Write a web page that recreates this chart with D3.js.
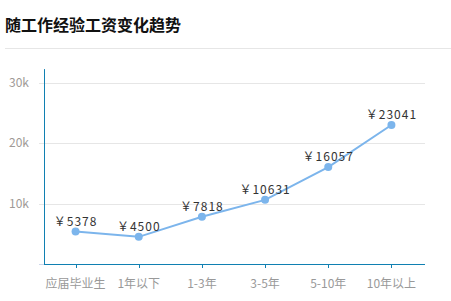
<!DOCTYPE html>
<html>
<head>
<meta charset="utf-8">
<script src="https://cdn.jsdelivr.net/npm/d3@7.9.0/dist/d3.min.js"></script>
<style>
  body { margin: 0; background: #fff; }
  svg { display: block; font-family: "Noto Sans CJK SC", "DejaVu Sans", sans-serif; }
</style>
</head>
<body>
<svg width="451" height="301"></svg>
<script>
const title = '随工作经验工资变化趋势';
const categories = ['应届毕业生', '1年以下', '1-3年', '3-5年', '5-10年', '10年以上'];
const salaries = [5378, 4500, 7818, 10631, 16057, 23041];
const yTicks = [10000, 20000, 30000];

const svg = d3.select('svg');

// title + separator
svg.append('text')
  .attr('x', 5).attr('y', 31)
  .attr('font-size', 16).attr('font-weight', 'bold').attr('fill', '#111')
  .text(title);
svg.append('line')
  .attr('x1', 5).attr('x2', 451).attr('y1', 48.5).attr('y2', 48.5)
  .attr('stroke', '#e6e6e6');

const x = d3.scaleBand().domain(categories).range([44, 423]);
const y = d3.scaleLinear().domain([0, 30000]).range([264, 83]);

// grid lines
svg.append('g')
  .selectAll('line')
  .data(yTicks)
  .join('line')
  .attr('x1', 39).attr('x2', 425)
  .attr('y1', d => Math.round(y(d)) + 0.5)
  .attr('y2', d => Math.round(y(d)) + 0.5)
  .attr('stroke', '#e6e6e6');

// y labels
svg.append('g')
  .selectAll('text')
  .data(yTicks)
  .join('text')
  .attr('x', 29).attr('y', d => y(d) + 4)
  .attr('text-anchor', 'end')
  .attr('font-size', 12).attr('fill', '#a09a96')
  .text(d => d / 1000 + 'k');

// small zero tick on the left
svg.append('line')
  .attr('x1', 39).attr('x2', 44).attr('y1', 264.5).attr('y2', 264.5)
  .attr('stroke', '#ccd6eb');

// axes lines
const axisColor = '#1080b2';
svg.append('line')
  .attr('x1', 44.5).attr('x2', 44.5).attr('y1', y(32300)).attr('y2', 264)
  .attr('stroke', axisColor);
svg.append('line')
  .attr('x1', 44).attr('x2', 425).attr('y1', 264.5).attr('y2', 264.5)
  .attr('stroke', axisColor);

// x ticks + labels
const cx = d => x(d) + x.bandwidth() / 2;
svg.append('g')
  .selectAll('line')
  .data(categories)
  .join('line')
  .attr('x1', d => Math.round(cx(d)) + 0.5).attr('x2', d => Math.round(cx(d)) + 0.5)
  .attr('y1', 264).attr('y2', 268)
  .attr('stroke', axisColor);
svg.append('g')
  .selectAll('text')
  .data(categories)
  .join('text')
  .attr('x', d => cx(d)).attr('y', 288)
  .attr('text-anchor', 'middle')
  .attr('font-size', 12).attr('fill', '#999')
  .text(d => d);

// line + markers
const pts = categories.map((c, i) => ({ c, v: salaries[i] }));
svg.append('path')
  .datum(pts)
  .attr('d', d3.line().x(d => cx(d.c)).y(d => y(d.v)))
  .attr('fill', 'none')
  .attr('stroke', '#7cb5ec')
  .attr('stroke-width', 2);
svg.append('g')
  .selectAll('circle')
  .data(pts)
  .join('circle')
  .attr('cx', d => cx(d.c)).attr('cy', d => y(d.v))
  .attr('r', 4)
  .attr('fill', '#7cb5ec');

// data labels
svg.append('g')
  .selectAll('text')
  .data(pts)
  .join('text')
  .attr('x', d => cx(d.c)).attr('y', d => y(d.v) - 6)
  .attr('text-anchor', 'middle')
  .attr('font-size', 12).attr('fill', '#333')
  .attr('letter-spacing', 1)
  .text(d => '￥' + d.v);
</script>
</body>
</html>
